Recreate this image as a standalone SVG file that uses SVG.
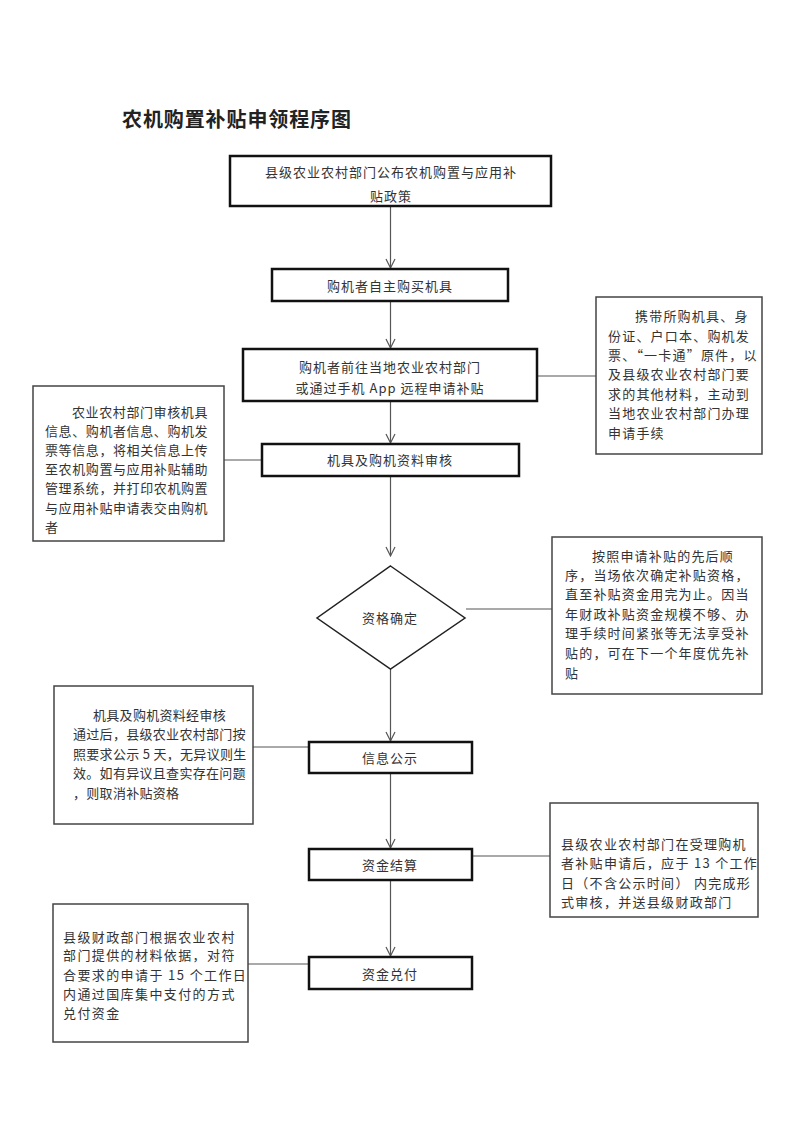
<svg xmlns="http://www.w3.org/2000/svg" width="793" height="1122" viewBox="0 0 793 1122">
<style>
text{font-family:"Noto Sans CJK SC","Liberation Sans",sans-serif;fill:#333;font-size:13px}
.title{font-size:20px;font-weight:bold;fill:#222;letter-spacing:0.9px}
.m{text-anchor:middle;letter-spacing:1px}
.main{fill:#fff;stroke:#111;stroke-width:2.5}
.side{fill:#fff;stroke:#444;stroke-width:1.5}
.c{fill:none;stroke:#555;stroke-width:1.2}
</style>
<defs>
<marker id="arr" markerWidth="12" markerHeight="12" refX="10" refY="6" orient="auto" markerUnits="userSpaceOnUse" viewBox="0 0 12 12">
<path d="M1,1.5 L10,6 L1,10.5" fill="none" stroke="#555" stroke-width="1.2"/>
</marker>
</defs>
<rect width="793" height="1122" fill="#fff"/>
<text class="title" x="122" y="127">农机购置补贴申领程序图</text>

<g id="connectors">
<line class="c" x1="390.5" y1="206" x2="390.5" y2="268" marker-end="url(#arr)"/>
<line class="c" x1="390.5" y1="302" x2="390.5" y2="348" marker-end="url(#arr)"/>
<line class="c" x1="390.5" y1="402" x2="390.5" y2="443" marker-end="url(#arr)"/>
<line class="c" x1="390.5" y1="476" x2="390.5" y2="556" marker-end="url(#arr)"/>
<line class="c" x1="390.5" y1="669" x2="390.5" y2="741" marker-end="url(#arr)"/>
<line class="c" x1="390.5" y1="773" x2="390.5" y2="848" marker-end="url(#arr)"/>
<line class="c" x1="390.5" y1="881" x2="390.5" y2="956" marker-end="url(#arr)"/>
<line class="c" x1="537" y1="376" x2="596" y2="376"/>
<line class="c" x1="224" y1="460" x2="262" y2="460"/>
<line class="c" x1="466" y1="609" x2="552" y2="609"/>
<line class="c" x1="253" y1="747" x2="308" y2="747"/>
<line class="c" x1="473" y1="856" x2="550" y2="856"/>
<line class="c" x1="248" y1="964" x2="308" y2="964"/>
</g>

<g id="n1">
<rect class="main" x="230" y="156" width="321" height="50"/>
<text class="m" x="391" y="177">县级农业农村部门公布农机购置与应用补</text>
<text class="m" x="391" y="201">贴政策</text>
</g>
<g id="n2">
<rect class="main" x="272" y="269" width="236" height="32"/>
<text class="m" x="390" y="291">购机者自主购买机具</text>
</g>
<g id="n3">
<rect class="main" x="243" y="349" width="294" height="52"/>
<text class="m" x="390" y="372">购机者前往当地农业农村部门</text>
<text class="m" x="390" y="393">或通过手机 App 远程申请补贴</text>
</g>
<g id="n3note">
<rect class="side" x="596" y="297" width="166" height="157"/>
<g style="letter-spacing:1.2px">
<text x="635" y="321">携带所购机具、身</text>
<text x="608" y="341">份证、户口本、购机发</text>
<text x="608" y="360">票、“一卡通”原件，以</text>
<text x="608" y="379">及县级农业农村部门要</text>
<text x="608" y="399">求的其他材料，主动到</text>
<text x="608" y="418">当地农业农村部门办理</text>
<text x="608" y="438">申请手续</text>
</g>
</g>
<g id="n4">
<rect class="main" x="262" y="444" width="257" height="32"/>
<text class="m" x="390" y="465">机具及购机资料审核</text>
</g>
<g id="n4note">
<rect class="side" x="33" y="386" width="191" height="155"/>
<g style="letter-spacing:0.6px">
<text x="72" y="417">农业农村部门审核机具</text>
<text x="45" y="436">信息、购机者信息、购机发</text>
<text x="45" y="455">票等信息，将相关信息上传</text>
<text x="45" y="474">至农机购置与应用补贴辅助</text>
<text x="45" y="493">管理系统，并打印农机购置</text>
<text x="45" y="513">与应用补贴申请表交由购机</text>
<text x="45" y="532">者</text>
</g>
</g>
<g id="n5">
<polygon points="390.5,566 465,618 390.5,669 317,618" fill="#fff" stroke="#222" stroke-width="1.5"/>
<text class="m" x="390" y="623">资格确定</text>
</g>
<g id="n5note">
<rect class="side" x="552" y="537" width="210" height="157"/>
<g style="letter-spacing:1.2px">
<text x="592" y="561">按照申请补贴的先后顺</text>
<text x="565" y="580">序，当场依次确定补贴资格，</text>
<text x="565" y="599">直至补贴资金用完为止。因当</text>
<text x="565" y="619">年财政补贴资金规模不够、办</text>
<text x="565" y="638">理手续时间紧张等无法享受补</text>
<text x="565" y="658">贴的，可在下一个年度优先补</text>
<text x="565" y="678">贴</text>
</g>
</g>
<g id="n6">
<rect class="main" x="309" y="742" width="163" height="31"/>
<text class="m" x="390" y="763">信息公示</text>
</g>
<g id="n6note">
<rect class="side" x="54" y="686" width="199" height="138"/>
<g style="letter-spacing:0.3px">
<text x="93" y="720">机具及购机资料经审核</text>
<text x="73" y="739">通过后，县级农业农村部门按</text>
<text x="73" y="759">照要求公示 5 天，无异议则生</text>
<text x="73" y="778">效。如有异议且查实存在问题</text>
<text x="73" y="798">，则取消补贴资格</text>
</g>
</g>
<g id="n7">
<rect class="main" x="309" y="849" width="163" height="31"/>
<text class="m" x="390" y="870">资金结算</text>
</g>
<g id="n7note">
<rect class="side" x="550" y="803" width="208" height="114"/>
<g style="letter-spacing:1.3px">
<text x="561" y="849">县级农业农村部门在受理购机</text>
<text x="561" y="868">者补贴申请后，应于 13 个工作</text>
<text x="561" y="888">日（不含公示时间） 内完成形</text>
<text x="561" y="907">式审核，并送县级财政部门</text>
</g>
</g>
<g id="n8">
<rect class="main" x="309" y="957" width="163" height="32"/>
<text class="m" x="390" y="979">资金兑付</text>
</g>
<g id="n8note">
<rect class="side" x="53" y="904" width="195" height="138"/>
<g style="letter-spacing:1.4px">
<text x="63" y="942">县级财政部门根据农业农村</text>
<text x="63" y="960">部门提供的材料依据，对符</text>
<text x="63" y="980">合要求的申请于 15 个工作日</text>
<text x="63" y="999">内通过国库集中支付的方式</text>
<text x="63" y="1018">兑付资金</text>
</g>
</g>
</svg>
